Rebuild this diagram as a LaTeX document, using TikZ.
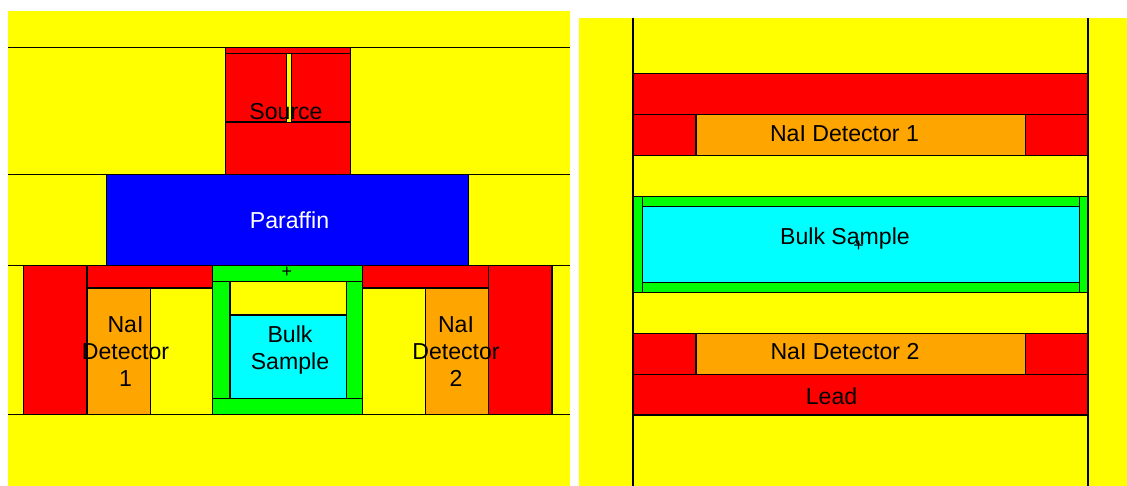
\documentclass[tikz,border=0pt]{standalone}
\usepackage{fontspec}
\setmainfont{Liberation Sans}
\definecolor{pyellow}{RGB}{255,255,0}
\definecolor{pred}{RGB}{255,0,0}
\definecolor{pblue}{RGB}{0,0,255}
\definecolor{pgreen}{RGB}{0,255,0}
\definecolor{pcyan}{RGB}{0,255,255}
\definecolor{porange}{RGB}{255,165,0}
\tikzset{
  part/.style={draw=black,line width=1.1pt},
  lead/.style={part,fill=pred},
  air/.style={part,fill=pyellow},
  crystal/.style={part,fill=porange},
  wax/.style={part,fill=pblue},
  shell/.style={part,fill=pgreen},
  bulk/.style={part,fill=pcyan},
  divider/.style={draw=black,line width=1.1pt},
  lbl/.style={inner sep=0pt,outer sep=0pt,font=\fontsize{23.1}{26.7}\selectfont,align=center,text=black},
  lblb/.style={lbl,anchor=base},
  plusmark/.style={inner sep=0pt,font=\fontsize{18}{18}\selectfont}
}
\begin{document}
\begin{tikzpicture}[x=1pt,y=-1pt]
\useasboundingbox (0,0) rectangle (1127,486);
% --- left panel
\fill[pyellow] (8,11) rectangle (570,486);
\draw[divider] (8,47.5) -- (570,47.5);
\draw[divider] (8,174.5) -- (570,174.5);
\draw[divider] (8,265.3) -- (570,265.3);
\draw[divider] (8,414.7) -- (570,414.7);
\draw[lead] (225.7,47.5) rectangle (350.7,174.5);
\draw[divider] (225.7,53.7) -- (350.7,53.7);
\draw[divider] (225.7,122) -- (350.7,122);
\draw[air,line width=0.8pt] (286,53.7) rectangle (291,122);
\draw[wax] (106.5,174.5) rectangle (468.6,265.3);
\draw[lead] (23.5,265.3) rectangle (87,414.7);
\draw[lead] (87,265.3) rectangle (212.5,288);
\draw[crystal] (87,288) rectangle (150.5,414.7);
\draw[air] (150.5,288) rectangle (212.5,414.7);
\draw[lead] (362.7,265.3) rectangle (488.3,288);
\draw[air] (362.7,288) rectangle (425.3,414.7);
\draw[crystal] (425.3,288) rectangle (488.3,414.7);
\draw[lead] (488.3,265.3) rectangle (552,414.7);
\draw[shell] (212.5,265.3) rectangle (362.7,414.7);
\draw[divider] (212.5,281.7) -- (362.7,281.7);
\draw[divider] (212.5,398.7) -- (362.7,398.7);
\draw[air] (230,281.7) rectangle (346.7,315);
\draw[bulk] (230,315) rectangle (346.7,398.7);
\node[plusmark] (plusa) at (286.8,272) {+};
\node[lblb] (source) at (286,120) {Source};
\node[lblb,text=white] (paraffin) at (289.5,228.8) {Paraffin};
\node[lbl] (bulka) at (290,350) {Bulk\\Sample};
\node[lbl] (deta) at (125.5,351.7) {NaI\\Detector\\1};
\node[lbl] (detb) at (456,351.7) {NaI\\Detector\\2};
% --- right panel
\fill[pyellow] (579,18) rectangle (1127,486);
\draw[divider] (633,18) -- (633,486);
\draw[divider] (1088,18) -- (1088,486);
\draw[lead] (633,73.5) rectangle (1088,114.8);
\draw[lead] (633,114.8) rectangle (1088,155.7);
\draw[crystal] (696,114.8) rectangle (1025.3,155.7);
\draw[air] (633,155.7) rectangle (1088,196.5);
\draw[shell] (633,196.5) rectangle (1088,292.3);
\draw[bulk] (642.3,206.8) rectangle (1079.3,282.2);
\draw[divider] (642.3,196.5) -- (642.3,292.3);
\draw[divider] (1079.3,196.5) -- (1079.3,292.3);
\draw[air] (633,292.3) rectangle (1088,333.3);
\draw[lead] (633,333.3) rectangle (1088,374.3);
\draw[crystal] (696,333.3) rectangle (1025.3,374.3);
\draw[lead] (633,374.3) rectangle (1088,415);
\node[plusmark] (plusb) at (858.5,246) {+};
\node[lblb] (detc) at (844.5,141.5) {NaI Detector 1};
\node[lblb] (bulkb) at (845,244.5) {Bulk Sample};
\node[lblb] (detd) at (845,359.3) {NaI Detector 2};
\node[lblb] (leadb) at (831.5,404) {Lead};
\end{tikzpicture}
\end{document}
